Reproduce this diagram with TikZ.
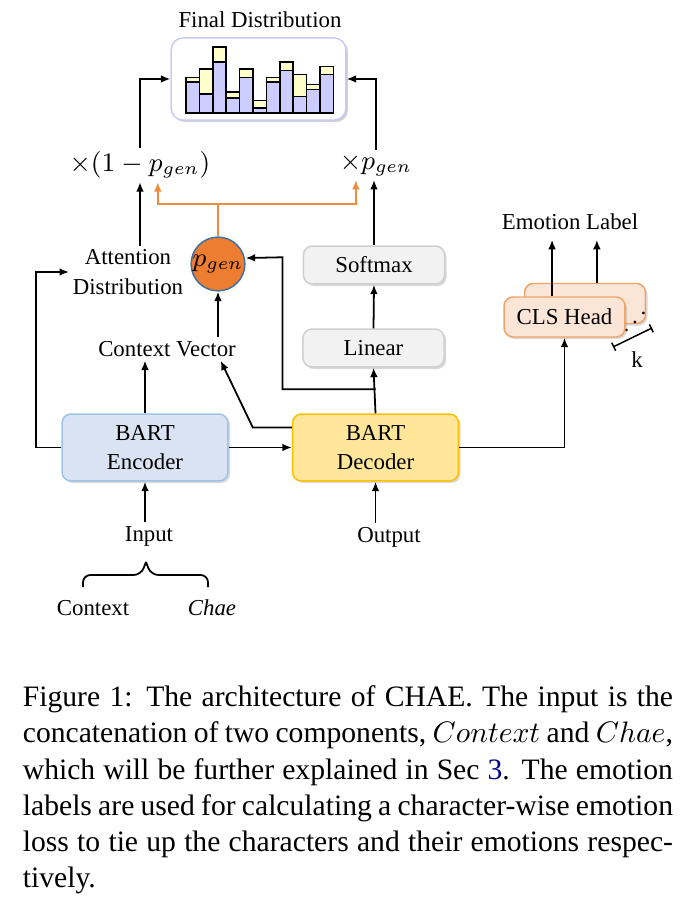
\documentclass[tikz,border=0pt]{standalone}
\usepackage{fontspec}
\setmainfont{Liberation Serif}
\usetikzlibrary{arrows.meta,shadows}

\definecolor{encfill}{HTML}{DAE3F3}
\definecolor{encline}{HTML}{9DC3E6}
\definecolor{decfill}{HTML}{FFE699}
\definecolor{decline}{HTML}{FFC000}
\definecolor{grayfill}{HTML}{F2F2F2}
\definecolor{grayline}{HTML}{CFCFCF}
\definecolor{clsfill}{HTML}{FBE5D6}
\definecolor{clsline}{HTML}{F0A468}
\definecolor{pgenfill}{HTML}{ED7D31}
\definecolor{pgenline}{HTML}{41719C}
\definecolor{gateline}{HTML}{F08A3C}
\definecolor{distline}{HTML}{CACAF6}
\definecolor{barblue}{HTML}{CCCCFF}
\definecolor{baryellow}{HTML}{FFFFCC}
\definecolor{linkblue}{HTML}{00008B}

\begin{document}
\begin{tikzpicture}[x=0.3375pt, y=-0.3375pt, line width=0.6pt,
  >={Latex[length=3.2pt,width=2.6pt]},
  every node/.style={font=\fontsize{7.7}{10}\selectfont},
  lbl/.style={inner sep=1pt, align=center},
  mth/.style={inner sep=1pt, font=\fontsize{9}{11}\selectfont},
  box/.style={draw, rounded corners=3pt, line width=0.5pt, align=center,
    drop shadow={shadow xshift=0.7pt, shadow yshift=-0.7pt, opacity=0.3}},
  bartbox/.style={box, minimum width=56pt, minimum height=22.6pt},
  graybox/.style={box, fill=grayfill, draw=grayline, minimum width=47.6pt, minimum height=12.8pt},
  clsbox/.style={box, fill=clsfill, draw=clsline, minimum width=40.8pt, minimum height=13.5pt},
  gate/.style={draw=gateline, ->, line width=0.6pt},
  bar/.style={line width=0.5pt}]
\useasboundingbox (0,0) rectangle (693,904);

\node[lbl] (ftitle) at (260,20) {Final Distribution};
\node[box, draw=distline, fill=white, rounded corners=4pt, minimum width=59pt, minimum height=27.7pt,
  drop shadow={shadow xshift=0.5pt, shadow yshift=-0.5pt, opacity=0.15}] (dist) at (258.5,79) {};
\foreach \lo/\hi [count=\i from 0] in {31/35.7, 19/44, 51/66, 15/21, 35.7/44, 5/12.3, 31/35.7, 42.3/51, 16.7/38.3, 23.3/28.3, 38.3/46.7}{
  \filldraw[bar, fill=barblue] (186+\i*13.4,113) rectangle (199.4+\i*13.4,113-\lo);
  \filldraw[bar, fill=baryellow] (186+\i*13.4,113-\lo) rectangle (199.4+\i*13.4,113-\hi);
}

\node[mth] (x1m) at (140,165) {$\times(1-p_{gen})$};
\node[mth] (xpg) at (376,165) {$\times p_{gen}$};
\node[lbl] (attn) at (128,272) {Attention\\Distribution};
\node[circle, draw=pgenline, fill=pgenfill, line width=0.5pt, minimum size=15.9pt, inner sep=0pt,
  font=\fontsize{9}{11}\selectfont] (pgen) at (218,264) {$p_{gen}$};
\node[graybox] (soft) at (374,265) {Softmax};
\node[graybox] (lin) at (373.5,348) {Linear};
\node[lbl] (ctx) at (167,349) {Context Vector};
\node[bartbox, fill=encfill, draw=encline] (enc) at (145,447.5) {BART\\Encoder};
\node[bartbox, fill=decfill, draw=decline] (dec) at (375.5,447.5) {BART\\Decoder};
\node[lbl] (emo) at (570,222) {Emotion Label};
\node[clsbox] (clsb) at (585,303.5) {};
\node[lbl] (dots) at (635,313) {\reflectbox{$\ddots$}};
\node[clsbox] (cls) at (564.5,317) {CLS Head};
\node[lbl] (kl) at (637,360) {k};
\node[lbl] (inp) at (149,536) {Input};
\node[lbl] (out) at (389,537) {Output};
\node[lbl] (ctxw) at (93,608) {Context};
\node[lbl] (chae) at (212,608) {\textit{Chae}};

\draw[->] (x1m.north) |- (dist.west);
\draw[->] (xpg.north) |- (dist.east);
\draw[->] (x1m.south |- attn.north) -- (x1m.south);
\draw[gate] (pgen.north) -- ++(0,-32) -| ([xshift=6pt]x1m.south);
\draw[gate] (pgen.north) ++(0,-32) -| ([xshift=-6.8pt]xpg.south);
\draw[->] (soft.north) -- (soft.north |- xpg.south);
\draw[->] (lin.north) -- (soft.south);
\draw[->] (dec.north) -- (lin.south);
\draw[->] (dec.north) ++(0,-24) -| ++(-93,-132) -- ([yshift=2pt]pgen.east);
\draw[->] (pgen.south |- ctx.north) -- (pgen.south);
\draw[->] (enc.west) -- ++(-25,0) |- (attn.west);
\draw[->] (enc.north) -- (enc.north |- ctx.south);
\draw[->] ([yshift=6.75pt]dec.west) -- ++(-39,0) -- ([xshift=-6.4pt]ctx.south east);
\draw[->] (enc.east) -- (dec.west);
\draw[->] (dec.east) -| (cls.south);
\draw[->, shorten >=2pt] ([xshift=-4.2pt]cls.north) -- ([xshift=-4.2pt]cls.north |- emo.south);
\draw[->, shorten >=2pt] ([xshift=4pt]clsb.north) -- ([xshift=4pt]clsb.north |- emo.south);
\draw[{Bar[width=3pt]}-{Bar[width=3pt]}, line width=0.5pt] (613,347) -- (652,328);
\draw[->] (enc.south |- inp.north) -- (enc.south);
\draw[->] (dec.south |- out.north) -- (dec.south);
\draw[rounded corners=2.5pt] (83,587) -- (83,575) -- (141,575) -- (146,562);
\draw[rounded corners=2.5pt] (146,562) -- (151,575) -- (208,575) -- (208,587);

\node[anchor=north west, inner sep=0pt, text width=219.4pt, align=justify,
  font=\fontsize{10}{12.2}\selectfont] (cap) at (22,685) {Figure 1: The architecture of CHAE. The input is the\linebreak
concatenation of two components, $Context$ and $Chae$,\linebreak
which will be further explained in Sec \textcolor{linkblue}{3}. The emotion\linebreak
labels are used for calculating a character-wise emotion\linebreak
loss to tie up the characters and their emotions respec-\linebreak
tively.};
\end{tikzpicture}
\end{document}
